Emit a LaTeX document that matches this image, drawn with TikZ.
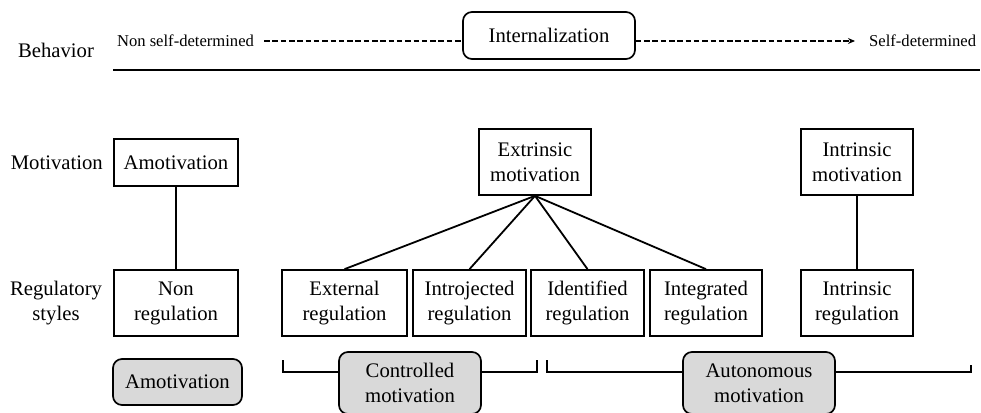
\documentclass[tikz,border=0pt]{standalone}
\usepackage{fontspec}
\setmainfont{Liberation Serif}
\usetikzlibrary{arrows.meta}
\begin{document}
\begin{tikzpicture}[x=1pt,y=-1pt,
  txt/.style={font=\fontsize{20.7}{25}\selectfont, align=center, inner sep=0pt},
  small/.style={font=\fontsize{16.6}{20}\selectfont, inner sep=5pt},
  box/.style={txt, draw, line width=1.7pt, fill=white},
  rbox/.style={box, rounded corners=9pt},
  gbox/.style={box, rounded corners=9pt, fill=gray!30},
  conn/.style={line width=1.8pt},
  brk/.style={line width=1.7pt},
  dline/.style={line width=1.4pt, dash pattern=on 5.5pt off 2.8pt}]
\useasboundingbox (0,0) rectangle (981,412);
% top
\node[txt] (beh) at (56,50) {Behavior};
\node[small] (nsd) at (185.5,41) {Non self-determined};
\node[rbox, minimum width=172pt, minimum height=47pt] (internal) at (549,35.5) {Internalization};
\node[small, anchor=west] (sd) at (864,41) {Self-determined};
\draw[dline] ([xshift=5pt]nsd.east) -- (internal.west |- nsd.east);
\draw[dline, -{Stealth[length=7pt,width=6pt]}] (internal.east |- sd.west) -- ([xshift=-9pt]sd.west);
\coordinate (hl) at (113,70);
\coordinate (hr) at (980,70);
\draw[line width=1.9pt] (hl) -- (hr);
% row labels
\node[txt, anchor=east] (motl) at (103,163) {Motivation};
\node[txt] (regl) at (56,303) {Regulatory\\styles};
% motivation boxes
\node[box, minimum width=124pt, minimum height=47pt] (amot) at (176,162.5) {Amotivation};
\node[box, minimum width=112pt, minimum height=66pt] (extr) at (535,162) {Extrinsic\\motivation};
\node[box, minimum width=112pt, minimum height=66pt] (intr) at (857,162) {Intrinsic\\motivation};
% regulation boxes
\node[box, minimum width=124pt, minimum height=66pt] (nonreg) at (176,303) {Non\\regulation};
\node[box, minimum width=125pt, minimum height=66pt] (ext) at (344.5,303) {External\\regulation};
\node[box, minimum width=113pt, minimum height=66pt] (intro) at (469.5,303) {Introjected\\regulation};
\node[box, minimum width=113pt, minimum height=66pt] (ident) at (587.5,303) {Identified\\regulation};
\node[box, minimum width=112pt, minimum height=66pt] (integ) at (706,303) {Integrated\\regulation};
\node[box, minimum width=112pt, minimum height=66pt] (intreg) at (857,303) {Intrinsic\\regulation};
% connectors
\draw[conn] (amot.south) -- (nonreg.north);
\draw[conn] (extr.south) -- (ext.north);
\draw[conn] (extr.south) -- (intro.north);
\draw[conn] (extr.south) -- (ident.north);
\draw[conn] (extr.south) -- (integ.north);
\draw[conn] (intr.south) -- (intreg.north);
% bottom
\node[gbox, minimum width=129pt, minimum height=46pt] (g1) at (177.5,382) {Amotivation};
\node[gbox, minimum width=142pt, minimum height=62pt] (g2) at (410,383) {Controlled\\motivation};
\node[gbox, minimum width=152pt, minimum height=62pt] (g3) at (759,383) {Autonomous\\motivation};
\coordinate (cL) at (283,360);
\coordinate (cLb) at (283,372);
\coordinate (cR) at (537,360);
\coordinate (cRb) at (537,372);
\coordinate (aL) at (547,360);
\coordinate (aLb) at (547,372);
\coordinate (aR) at (971,365);
\coordinate (aRb) at (971,372);
\draw[brk] (cL) -- (cLb) -- (g2.west |- cLb);
\draw[brk] (g2.east |- cRb) -- (cRb) -- (cR);
\draw[brk] (aL) -- (aLb) -- (g3.west |- aLb);
\draw[brk] (g3.east |- aRb) -- (aRb) -- (aR);
\end{tikzpicture}
\end{document}
